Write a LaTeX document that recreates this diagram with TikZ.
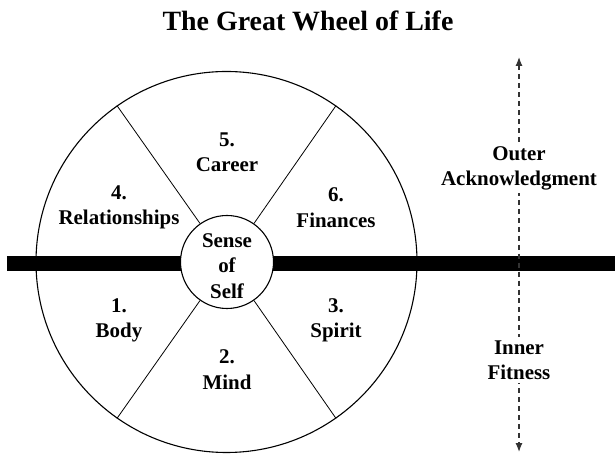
\documentclass[tikz,border=0pt]{standalone}
\usepackage{fontspec}
\setmainfont{Liberation Serif}
\usetikzlibrary{arrows.meta}
\tikzset{>={Latex[length=9pt,width=7pt]}}
\tikzstyle{sector}=[font=\bfseries\fontsize{21}{25.5}\selectfont,align=center,inner sep=1pt]
\tikzstyle{side}=[sector,fill=white,inner sep=3pt]
\tikzstyle{ring}=[circle,draw,line width=1.1pt,inner sep=0]
\tikzstyle{spoke}=[line width=0.8pt]

\begin{document}
\begin{tikzpicture}[x=1bp,y=1bp]
\useasboundingbox (-226.5,-194) rectangle (388.5,262);
\node[font=\bfseries\fontsize{28}{30}\selectfont] (title) at (81.5,241) {The Great Wheel of Life};

\node[ring,minimum size=381bp] (wheel) at (0,0) {};

% the axle through the wheel
\coordinate (barleft) at (-219.5,-1.5);
\coordinate (barright) at (388.5,-1.5);
\draw[line width=15bp] (barleft)--(barright);

\node[ring,fill=white,minimum size=93bp,sector] (self) at (0.5,0) {};
\node[sector] (selftext) at (0.5,-4) {Sense\\of\\Self};

\draw[spoke] (self.55)--(wheel.55);
\draw[spoke] (self.125)--(wheel.125);
\draw[spoke] (self.235)--(wheel.235);
\draw[spoke] (self.305)--(wheel.305);

\node[sector] (career) at (0.5,109.5) {5.\\Career};
\node[sector] (relations) at (-107.5,54.5) {4.\\Relationships};
\node[sector] (finances) at (109.5,54.5) {6.\\Finances};
\node[sector] (body) at (-107.5,-58.5) {1.\\Body};
\node[sector] (mind) at (0.5,-107.5) {2.\\Mind};
\node[sector] (spirit) at (109.5,-58.5) {3.\\Spirit};

\coordinate (up) at (292.5,205);
\coordinate (down) at (292.5,-190);
\draw[<->,line width=1.2pt,black!80,dash pattern=on 5pt off 4pt] (up)--(down);
\node[side] (outer) at (292.5,93.5) {Outer\\Acknowledgment};
\node[side] (inner) at (292.5,-98) {Inner\\Fitness};
\end{tikzpicture}
\end{document}
